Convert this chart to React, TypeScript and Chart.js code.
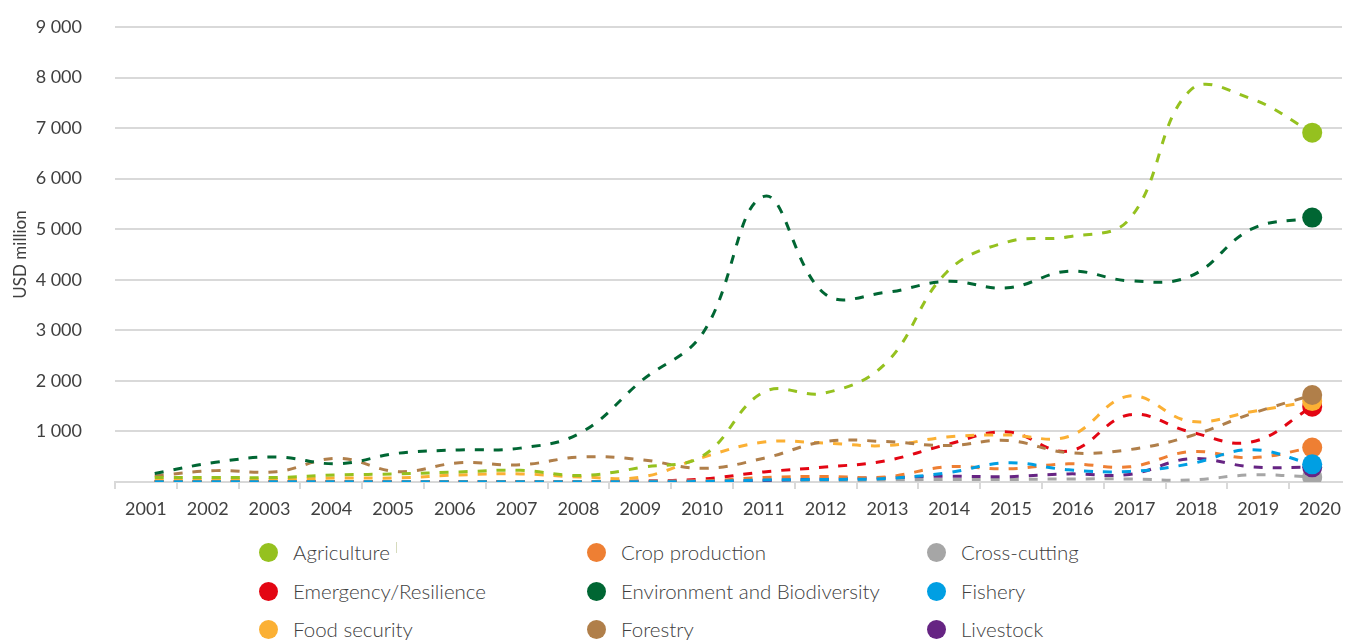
import React, { useEffect, useRef } from 'react';
import { Chart, registerables } from 'chart.js';

Chart.register(...registerables);

const FONT = "Lato, 'Noto Sans', sans-serif";
const TEXT = '#404040';
const GRID = '#d9d9d9';

const years = [2001, 2002, 2003, 2004, 2005, 2006, 2007, 2008, 2009, 2010, 2011, 2012, 2013, 2014, 2015, 2016, 2017, 2018, 2019, 2020];
const yTickValues = [1000, 2000, 3000, 4000, 5000, 6000, 7000, 8000, 9000];

const agriculture = [90, 90, 90, 140, 160, 200, 230, 130, 290, 520, 1780, 1760, 2350, 4150, 4750, 4850, 5200, 7750, 7580, 6910];
const cropProduction = [10, 10, 10, 10, 10, 10, 10, 10, 10, 20, 90, 110, 100, 300, 260, 360, 300, 600, 480, 680];
const crossCutting = [0, 0, 0, 0, 0, 0, 0, 0, 20, 20, 20, 20, 40, 50, 50, 60, 60, 40, 140, 100];
const emergency = [10, 10, 10, 10, 10, 10, 10, 10, 20, 60, 200, 295, 420, 740, 990, 610, 1330, 990, 790, 1490];
const environment = [170, 390, 495, 360, 570, 635, 670, 980, 2010, 2950, 5650, 3720, 3750, 3970, 3840, 4170, 3980, 4070, 5000, 5230];
const fishery = [5, 5, 5, 5, 5, 5, 5, 5, 5, 10, 40, 50, 70, 180, 380, 240, 210, 360, 640, 350];
const foodSecurity = [30, 40, 50, 80, 80, 140, 160, 100, 100, 490, 790, 770, 720, 890, 930, 900, 1700, 1200, 1390, 1600];
const forestry = [120, 225, 205, 470, 205, 380, 340, 495, 440, 270, 470, 800, 800, 720, 820, 580, 640, 910, 1350, 1720];
const livestock = [5, 5, 5, 5, 5, 5, 5, 5, 5, 10, 30, 60, 85, 115, 105, 160, 150, 460, 300, 290];

const seriesNames = [
  'Agriculture', 'Crop production', 'Cross-cutting',
  'Emergency/Resilience', 'Environment and Biodiversity', 'Fishery',
  'Food security', 'Forestry', 'Livestock',
];
const seriesValues = [agriculture, cropProduction, crossCutting, emergency, environment, fishery, foodSecurity, forestry, livestock];
const seriesColors = ['#95c11f', '#ee7f33', '#a6a6a6', '#e30613', '#006633', '#009fe3', '#fbb034', '#b07f4a', '#662483'];
const seriesOrder = [0, 2, 3, 3, 0, 1, 2, 1, 2];

const fmt = (v: number) => (v === 0 ? '' : String(v).replace(/\B(?=(\d{3})+(?!\d))/g, ' '));

export default function App() {
  const ref = useRef<HTMLCanvasElement>(null);

  useEffect(() => {
    const datasets = seriesNames.map((name, k) => ({
      label: name,
      data: years.map((yr, i) => ({ x: yr, y: seriesValues[k][i] })),
      xAxisID: 'xd',
      yAxisID: 'y',
      borderColor: seriesColors[k],
      backgroundColor: seriesColors[k],
      borderWidth: 3,
      borderDash: [9, 10],
      tension: 0.4,
      fill: false,
      order: seriesOrder[k],
      pointRadius: years.map((_, i) => (i === years.length - 1 ? 10 : 0)),
      pointHoverRadius: years.map((_, i) => (i === years.length - 1 ? 10 : 0)),
      pointBackgroundColor: seriesColors[k],
      pointBorderWidth: 0,
    }));

    const chart = new Chart(ref.current as HTMLCanvasElement, {
      type: 'line',
      data: { datasets } as any,
      options: {
        animation: false,
        responsive: true,
        maintainAspectRatio: false,
        layout: { padding: { top: 27, right: 2, bottom: 0, left: 0 } },
        plugins: { legend: { display: false }, tooltip: { enabled: false } },
        scales: {
          x: {
            type: 'linear',
            position: 'bottom',
            min: 2000.5,
            max: 2020.356,
            afterBuildTicks: (axis: any) => {
              axis.ticks = years.map((v) => ({ value: v }));
            },
            afterFit: (s: any) => {
              s.height = 48;
            },
            ticks: {
              callback: (v: any) => String(v),
              autoSkip: false,
              maxRotation: 0,
              padding: 9,
              color: TEXT,
              font: { family: FONT, size: 18 },
            },
            grid: { offset: true, drawOnChartArea: false, drawTicks: true, tickLength: 7, color: GRID, lineWidth: 2 },
            border: { display: true, color: GRID, width: 2 },
          },
          xd: { type: 'linear', display: false, min: 2000.348, max: 2020.489 },
          y: {
            type: 'linear',
            min: 0,
            max: 9000,
            afterBuildTicks: (axis: any) => {
              axis.ticks = [0, ...yTickValues].map((v) => ({ value: v }));
            },
            afterFit: (s: any) => {
              s.width = 115;
            },
            ticks: {
              callback: (v: any) => fmt(Number(v)),
              padding: 0,
              color: TEXT,
              font: { family: FONT, size: 18 },
            },
            grid: { color: GRID, lineWidth: 2, drawTicks: true, tickLength: 33, tickColor: 'rgba(0,0,0,0)' },
            border: { display: false },
            title: {
              display: true,
              text: 'USD million',
              color: TEXT,
              font: { family: FONT, size: 17 },
              padding: { top: 10, bottom: 0 },
            },
          },
        },
      } as any,
    });
    return () => chart.destroy();
  }, []);

  const colLeft = [259, 587, 927];
  const rowTop = [542, 581, 619];

  return (
    <div style={{ position: 'absolute', left: 0, top: 0, width: 1352, height: 641, background: '#fff', fontFamily: FONT }}>
      <div style={{ position: 'absolute', left: 0, top: 0, width: 1352, height: 530 }}>
        <canvas ref={ref} />
      </div>
      {seriesNames.map((name, k) => (
        <div
          key={name}
          style={{
            position: 'absolute',
            left: colLeft[k % 3],
            top: rowTop[Math.floor(k / 3)],
            height: 20,
            display: 'flex',
            alignItems: 'center',
            whiteSpace: 'nowrap',
          }}
        >
          <span style={{ display: 'inline-block', width: 19, height: 19, borderRadius: '50%', background: seriesColors[k], marginRight: 15 }} />
          <span style={{ fontSize: 20.5, fontWeight: 300, color: TEXT, lineHeight: '20px' }}>{name}</span>
        </div>
      ))}
      <div style={{ position: 'absolute', left: 396, top: 542, width: 1, height: 11, background: '#d6dbbd' }} />
    </div>
  );
}
